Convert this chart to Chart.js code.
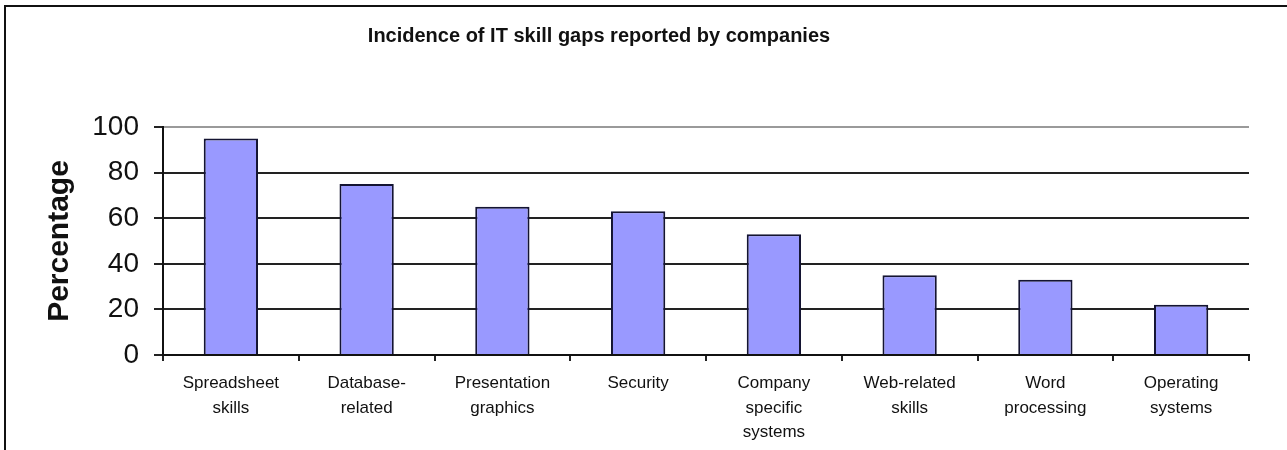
<!DOCTYPE html>
<html lang="en">

<head>
  <meta charset="UTF-8">
  <script src="https://cdn.jsdelivr.net/npm/chart.js"></script>
  <title>IT skill gaps</title>
  <style>
    html, body { margin: 0; padding: 0; background: #fff; }
    #quadro {
      position: absolute; left: 0; top: 0;
      width: 1287px; height: 450px;
    }
    #moldura {
      position: absolute; left: 4px; top: 5px;
      width: 1300px; height: 460px;
      border-top: 2px solid #111; border-left: 2px solid #111;
      pointer-events: none;
    }
  </style>
</head>

<body>
  <div id="quadro"><canvas id="barras"></canvas></div>
  <div id="moldura"></div>

<script>
  // categorias e valores (%)
  const categorias = [
    ['Spreadsheet', 'skills'],
    ['Database-', 'related'],
    ['Presentation', 'graphics'],
    ['Security'],
    ['Company', 'specific', 'systems'],
    ['Web-related', 'skills'],
    ['Word', 'processing'],
    ['Operating', 'systems']
  ];
  const percentagens = [95, 75, 65, 63, 53, 35, 33, 22];
  const ticksY = [0, 20, 40, 60, 80, 100];
  const titulo = 'Incidence of IT skill gaps reported by companies';

  const fonte = "Arial, 'Liberation Sans', sans-serif";

  // titulo desenhado a parte, um pouco a esquerda do centro
  const tituloTopo = {
    id: 'tituloTopo',
    afterDraw(chart) {
      const ctx = chart.ctx;
      ctx.save();
      ctx.font = 'bold 20px ' + fonte;
      ctx.fillStyle = '#111';
      ctx.textAlign = 'center';
      ctx.textBaseline = 'middle';
      ctx.fillText(titulo, 599, 36);
      ctx.restore();
    }
  };

  new Chart(document.getElementById('barras'), {
    type: 'bar',
    data: {
      labels: categorias,
      datasets: [{
        label: 'Percentage',
        data: percentagens,
        backgroundColor: '#9999ff',
        borderColor: '#141432',
        borderWidth: 2,
        barPercentage: 0.4,
        categoryPercentage: 1.0
      }]
    },
    options: {
      responsive: true,
      maintainAspectRatio: false,
      animation: false,
      layout: { padding: { left: 42, right: 38, top: 127, bottom: 0 } },
      scales: {
        x: {
          offset: true,
          grid: {
            offset: true,
            drawOnChartArea: true,
            color: (ctx) => ctx.index === categorias.length ? '#9a9a9a' : 'rgba(0,0,0,0)',
            tickColor: '#222',
            tickLength: 6,
            lineWidth: 2
          },
          border: { display: true, color: '#111', width: 2 },
          ticks: {
            color: '#111',
            font: { family: fonte, size: 17, lineHeight: 1.45 },
            padding: 10,
            maxRotation: 0,
            autoSkip: false
          },
          afterFit: (s) => { s.height = 95; }
        },
        y: {
          min: 0,
          max: 100,
          afterBuildTicks: (s) => { s.ticks = ticksY.map(v => ({ value: v })); },
          grid: {
            color: (ctx) => ctx.tick && ctx.tick.value === 100 ? '#9a9a9a' : '#222',
            tickColor: '#222',
            tickLength: 9,
            lineWidth: 2
          },
          border: { display: true, color: '#111', width: 2 },
          ticks: {
            color: '#111',
            font: { family: fonte, size: 28 },
            padding: 15
          },
          title: {
            display: true,
            text: 'Percentage',
            color: '#111',
            font: { family: fonte, size: 30, weight: 'bold' },
            padding: 0
          },
          afterFit: (s) => { s.width = 121; }
        }
      },
      plugins: {
        legend: { display: false },
        tooltip: { enabled: false },
        title: { display: false }
      }
    },
    plugins: [tituloTopo]
  });
</script>

</body>

</html>
